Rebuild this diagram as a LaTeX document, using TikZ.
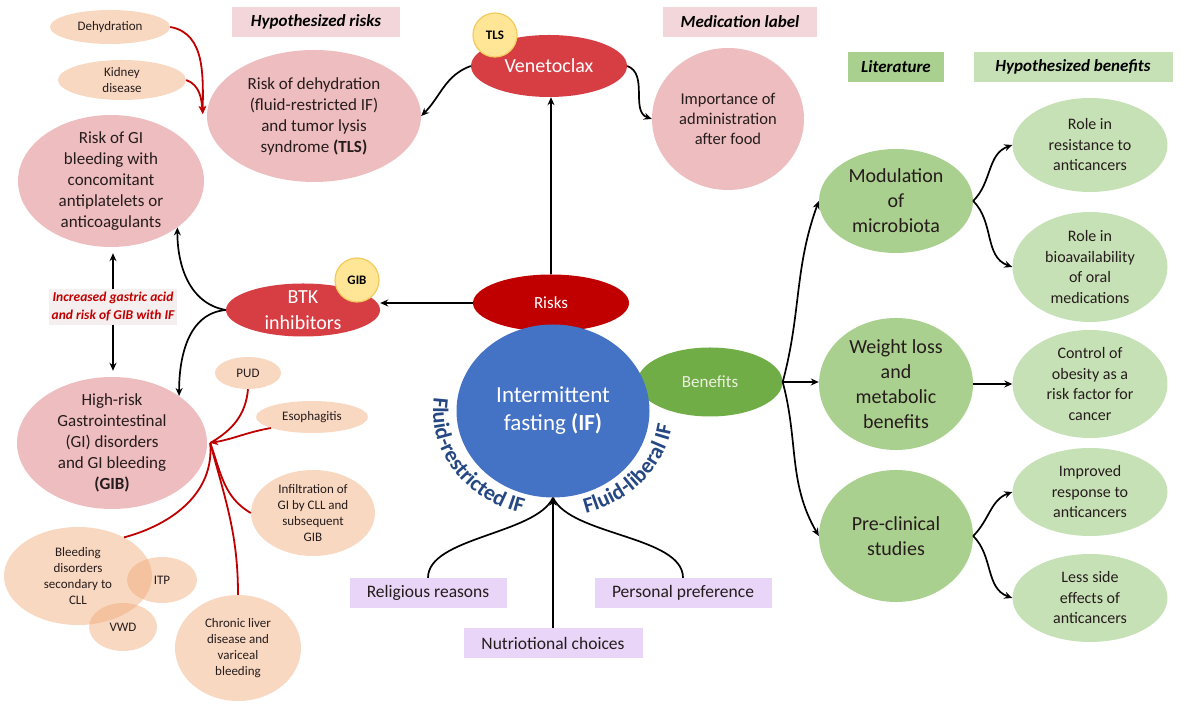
\documentclass[tikz,border=0pt]{standalone}
\usepackage{fontspec}
\setmainfont{Carlito}
\usetikzlibrary{shapes.geometric,arrows.meta,decorations.text}

\definecolor{ifblue}{RGB}{68,114,196}
\definecolor{arcblue}{RGB}{38,72,130}
\definecolor{riskred}{RGB}{192,0,0}
\definecolor{venred}{RGB}{214,62,68}
\definecolor{riskpink}{RGB}{238,189,192}
\definecolor{hdrpink}{RGB}{242,214,217}
\definecolor{peach}{RGB}{240,168,118}
\definecolor{darkgreen}{RGB}{112,173,71}
\definecolor{midgreen}{RGB}{169,208,142}
\definecolor{lightgreen}{RGB}{199,225,183}
\definecolor{lilac}{RGB}{232,213,247}
\definecolor{badgefill}{RGB}{255,229,150}
\definecolor{badgeedge}{RGB}{242,203,92}
\definecolor{notefill}{RGB}{246,239,240}
\definecolor{inkdark}{RGB}{38,28,28}
\definecolor{bentext}{RGB}{236,241,222}

\newcommand{\arcfont}{\bfseries\fontsize{22}{25}\selectfont}

\tikzset{
  oval/.style={ellipse, inner sep=-8pt, align=center},
  redoval/.style={oval, fill=venred, text=white, font=\fontsize{20}{26}\selectfont},
  pinkoval/.style={oval, fill=riskpink, text=inkdark, font=\fontsize{17}{21}\selectfont},
  peachoval/.style={oval, fill=peach, fill opacity=0.45, text opacity=1, text=inkdark, font=\fontsize{13}{16}\selectfont},
  greenoval/.style={oval, fill=midgreen, text=inkdark, minimum width=154pt, font=\fontsize{20}{25}\selectfont},
  benoval/.style={oval, fill=lightgreen, text=inkdark, minimum width=155pt, font=\fontsize{16}{20.5}\selectfont},
  badge/.style={circle, fill=badgefill, draw=badgeedge, line width=1.2pt, minimum size=44pt, inner sep=0pt, font=\bfseries\fontsize{13}{15}\selectfont},
  header/.style={inner sep=0pt, minimum height=30pt, font=\bfseries\itshape\fontsize{17}{20}\selectfont},
  reason/.style={fill=lilac, inner sep=0pt, minimum height=30pt, text=inkdark, font=\fontsize{17.5}{20}\selectfont},
  link/.style={line width=1.7pt},
  redlink/.style={color=riskred, line width=1.8pt},
}

\begin{document}
\begin{tikzpicture}[x=1pt, y=1pt, >={Stealth[length=8pt,width=7pt]}]
\useasboundingbox (0,0) rectangle (1191,711);

% headers
\node[header, fill=hdrpink, minimum width=168pt] (hrisk) at (316,689) {Hypothesized risks};
\node[header, fill=hdrpink, minimum width=154pt] (medlab) at (740,689) {Medication label};
\node[header, fill=midgreen, minimum width=96pt] (lit) at (896,644) {Literature};
\node[header, fill=lightgreen, minimum width=199pt] (hben) at (1073,644) {Hypothesized benefits};

% centre
\node[redoval, fill=riskred, minimum width=156pt, minimum height=57pt, font=\fontsize{17}{20}\selectfont] (risks) at (551,408) {Risks};
\node[oval, fill=darkgreen, text=bentext, minimum width=145pt, minimum height=69pt, font=\fontsize{17}{20}\selectfont] (benefits) at (710,329) {Benefits};
\node[oval, fill=ifblue, text=white, minimum width=193pt, minimum height=173pt, font=\fontsize{23}{28}\selectfont] (circ) at (553,300) {Intermittent\\fasting \textbf{(IF)}};

\path[decorate, decoration={text along path, text align=center, text color=arcblue,
    text={|\arcfont|Fluid-restricted IF}}]
  (circ.center) ++(158:120pt and 106pt) arc[start angle=158, end angle=268, x radius=120pt, y radius=106pt];
\path[decorate, decoration={text along path, text align=center, text color=arcblue,
    text={|\arcfont|Fluid-liberal IF}}]
  (circ.center) ++(-90:120pt and 106pt) arc[start angle=-90, end angle=10, x radius=120pt, y radius=106pt];

% risks
\node[redoval, minimum width=156pt, minimum height=62pt] (venet) at (549,645) {Venetoclax};
\node[badge] (tls) at (495,676) {TLS};
\node[redoval, minimum width=154pt, minimum height=53pt] (btk) at (303,401) {BTK\\inhibitors};
\node[badge] (gib) at (357,431) {GIB};

\node[pinkoval, minimum width=214pt, minimum height=132pt] (rdeh) at (314,595) {Risk of dehydration\\(fluid-restricted IF)\\and tumor lysis\\syndrome \textbf{(TLS)}};
\node[pinkoval, minimum width=186pt, minimum height=132pt] (rgi) at (111,530) {Risk of GI\\bleeding with\\concomitant\\antiplatelets or\\anticoagulants};
\node[pinkoval, minimum width=152pt, minimum height=142pt, font=\fontsize{16.5}{20}\selectfont] (imp) at (728,592) {Importance of\\administration\\after food};
\node[pinkoval, minimum width=190pt, minimum height=132pt] (hgi) at (112,268) {High-risk\\Gastrointestinal\\(GI) disorders\\and GI bleeding\\\textbf{(GIB)}};

\node[peachoval, minimum width=120pt, minimum height=34pt] (dehy) at (110,684) {Dehydration};
\node[peachoval, minimum width=128pt, minimum height=40pt] (kid) at (122,631) {Kidney\\disease};
\node[peachoval, minimum width=66pt, minimum height=32pt] (pud) at (248,338) {PUD};
\node[peachoval, minimum width=112pt, minimum height=32pt] (eso) at (312,294) {Esophagitis};
\node[peachoval, minimum width=124pt, minimum height=86pt] (infil) at (313,198) {Infiltration of\\GI by CLL and\\subsequent\\GIB};
\node[peachoval, minimum width=148pt, minimum height=98pt] (bleed) at (78,135) {Bleeding\\disorders\\secondary to\\CLL};
\node[peachoval, minimum width=70pt, minimum height=46pt] (itp) at (162,131) {ITP};
\node[peachoval, minimum width=68pt, minimum height=48pt] (vwd) at (123,84) {VWD};
\node[peachoval, minimum width=126pt, minimum height=106pt] (liver) at (238,63) {Chronic liver\\disease and\\variceal\\bleeding};

\node[fill=notefill, inner sep=3pt, align=center, text=riskred, font=\bfseries\itshape\fontsize{13.5}{18}\selectfont] (incr) at (113,404) {Increased gastric acid\\and risk of GIB with IF};

% benefits
\node[greenoval, minimum height=104pt] (modu) at (896,510) {Modulation\\of\\microbiota};
\node[greenoval, minimum height=132pt] (weight) at (896,327) {Weight loss\\and\\metabolic\\benefits};
\node[greenoval, minimum height=132pt] (precl) at (896,175) {Pre-clinical\\studies};
\node[benoval, minimum height=94pt] (role1) at (1090,566) {Role in\\resistance to\\anticancers};
\node[benoval, minimum height=110pt] (role2) at (1090,444) {Role in\\bioavailability\\of oral\\medications};
\node[benoval, minimum height=108pt] (ctrl) at (1090,327) {Control of\\obesity as a\\risk factor for\\cancer};
\node[benoval, minimum height=88pt] (impr) at (1090,219) {Improved\\response to\\anticancers};
\node[benoval, minimum height=88pt] (less) at (1090,113) {Less side\\effects of\\anticancers};

% reasons
\node[reason, minimum width=157pt] (relig) at (428,118) {Religious reasons};
\node[reason, minimum width=177pt] (pers) at (683,118) {Personal preference};
\node[reason, minimum width=179pt] (nutr) at (553,68) {Nutriotional choices};

% connectors
\draw[link,->] (risks.north) -- (risks.north |- venet.south);
\draw[link,->] (venet.west) to[out=200, in=45] (rdeh.east);
\draw[link,->] (venet.east) to[out=-20, in=160] (imp.west);
\draw[link,->] (risks.west) -- (risks.west -| btk.east);
\draw[link,->] (btk.west) to[out=170, in=-90] (rgi.-35);
\draw[link,->] (btk.west) to[out=185, in=90] (hgi.35);
\draw[link,->, shorten >=6pt] (incr.north) -- (incr.north |- rgi.south);
\draw[link,->, shorten >=6pt] (incr.south) -- (incr.south |- hgi.north);

\coordinate (dtip) at ([xshift=-4pt, yshift=2pt]rdeh.west);
\draw[redlink,->] (dehy.east) to[out=-10, in=90] (dtip);
\draw[redlink,->] (kid.east) to[out=-20, in=95] (dtip);

\coordinate (gtip) at ([xshift=3pt]hgi.east);
\draw[redlink] (pud.south) to[out=-95, in=30] (gtip);
\draw[redlink] (infil.west) to[out=150, in=-70] (gtip);
\draw[redlink] (bleed.40) to[out=15, in=-85] (gtip);
\draw[redlink] (liver.north) to[out=90, in=-75] (gtip);
\draw[redlink,->] (eso.195) to[out=190, in=10] (gtip);

\draw[link,->] (benefits.east) -- (benefits.east -| weight.west);
\draw[link,->] (benefits.east) to[out=75, in=-110] (modu.west);
\draw[link,->] (benefits.east) to[out=-75, in=120] (precl.west);
\draw[link,->] (modu.east) to[out=45, in=200] (role1.west);
\draw[link,->] (modu.east) to[out=-45, in=160] (role2.west);
\draw[link,->] (weight.east) -- (ctrl.west);
\draw[link,->] (precl.east) to[out=45, in=200] (impr.west);
\draw[link,->] (precl.east) to[out=-45, in=160] (less.west);

\draw[link] (relig.north) to[out=90, in=-115, looseness=0.7] (circ.south);
\draw[link] (pers.north) to[out=90, in=-65, looseness=0.7] (circ.south);
\draw[link,->] (nutr.north) -- (circ.south);
\end{tikzpicture}
\end{document}
